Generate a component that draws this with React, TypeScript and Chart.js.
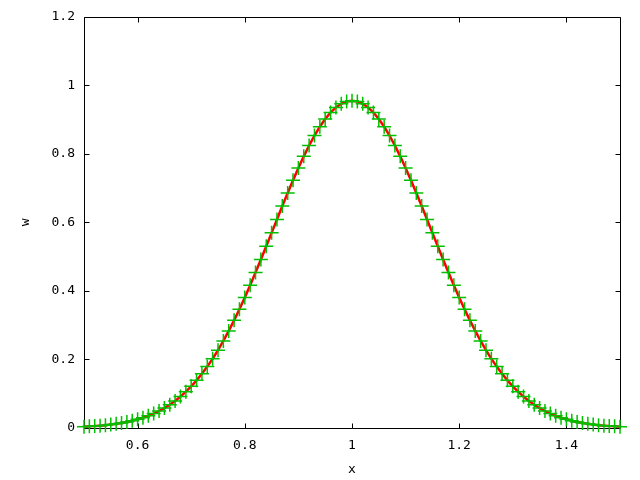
import { useEffect, useRef } from "react";
import { Chart, registerables } from "chart.js";

Chart.register(...registerables);

const xValues = [
  0.5, 0.51, 0.52, 0.53, 0.54, 0.55, 0.56, 0.57, 0.58, 0.59,
  0.6, 0.61, 0.62, 0.63, 0.64, 0.65, 0.66, 0.67, 0.68, 0.69,
  0.7, 0.71, 0.72, 0.73, 0.74, 0.75, 0.76, 0.77, 0.78, 0.79,
  0.8, 0.81, 0.82, 0.83, 0.84, 0.85, 0.86, 0.87, 0.88, 0.89,
  0.9, 0.91, 0.92, 0.93, 0.94, 0.95, 0.96, 0.97, 0.98, 0.99,
  1.0,
  1.01, 1.02, 1.03, 1.04, 1.05, 1.06, 1.07, 1.08, 1.09, 1.1,
  1.11, 1.12, 1.13, 1.14, 1.15, 1.16, 1.17, 1.18, 1.19, 1.2,
  1.21, 1.22, 1.23, 1.24, 1.25, 1.26, 1.27, 1.28, 1.29, 1.3,
  1.31, 1.32, 1.33, 1.34, 1.35, 1.36, 1.37, 1.38, 1.39, 1.4,
  1.41, 1.42, 1.43, 1.44, 1.45, 1.46, 1.47, 1.48, 1.49, 1.5,
];

const wValues = [
  0.004, 0.005, 0.0055, 0.0068, 0.0083, 0.0101, 0.0122, 0.0147, 0.0177, 0.0212,
  0.0253, 0.0301, 0.0356, 0.0421, 0.0496, 0.0582, 0.068, 0.0791, 0.0917, 0.1059,
  0.1217, 0.139, 0.1581, 0.1792, 0.2022, 0.2272, 0.254, 0.2832, 0.3141, 0.3467,
  0.3809, 0.4166, 0.4536, 0.4916, 0.5303, 0.5695, 0.6087, 0.6477, 0.686, 0.7232,
  0.759, 0.7928, 0.8244, 0.8533, 0.8792, 0.9017, 0.9205, 0.9354, 0.9463, 0.9528,
  0.955,
  0.9528, 0.9463, 0.9354, 0.9205, 0.9017, 0.8792, 0.8533, 0.8244, 0.7928, 0.759,
  0.7232, 0.686, 0.6477, 0.6087, 0.5695, 0.5303, 0.4916, 0.4536, 0.4166, 0.3809,
  0.3467, 0.3141, 0.2832, 0.254, 0.2272, 0.2022, 0.1792, 0.1581, 0.139, 0.1217,
  0.1059, 0.0917, 0.0791, 0.068, 0.0582, 0.0496, 0.0421, 0.0356, 0.0301, 0.0253,
  0.0212, 0.0177, 0.0147, 0.0122, 0.0101, 0.0083, 0.0068, 0.0055, 0.005, 0.004,
];

const xTicks = [0.6, 0.8, 1, 1.2, 1.4];
const yTicks = [0, 0.2, 0.4, 0.6, 0.8, 1, 1.2];

const FONT = { family: "'DejaVu Sans Mono', monospace", size: 13 };

const framePlugin = {
  id: "gnuFrame",
  beforeDatasetsDraw(chart: any) {
    const { ctx, chartArea } = chart;
    const { left, right, top, bottom } = chartArea;
    const xs = chart.scales.x;
    const ys = chart.scales.y;
    const L = Math.round(left) + 0.5;
    const R = Math.round(right) + 0.5;
    const T = Math.round(top) + 0.5;
    const B = Math.round(bottom) + 0.5;
    const tl = 5;
    ctx.save();
    ctx.strokeStyle = "#000";
    ctx.lineWidth = 1;
    ctx.beginPath();
    ctx.rect(L, T, R - L, B - T);
    xTicks.forEach((v) => {
      const p = Math.round(xs.getPixelForValue(v)) + 0.5;
      ctx.moveTo(p, B);
      ctx.lineTo(p, B - tl);
      ctx.moveTo(p, T);
      ctx.lineTo(p, T + tl);
    });
    yTicks.forEach((v) => {
      const p = Math.round(ys.getPixelForValue(v)) + 0.5;
      ctx.moveTo(L, p);
      ctx.lineTo(L + tl, p);
      ctx.moveTo(R, p);
      ctx.lineTo(R - tl, p);
    });
    ctx.stroke();
    ctx.restore();
  },
};

export default function App() {
  const ref = useRef<HTMLCanvasElement | null>(null);

  useEffect(() => {
    document.body.style.margin = "0";
    const canvas = ref.current;
    if (!canvas) return;
    const points = xValues.map((x, i) => ({ x, y: wValues[i] }));
    const chart = new Chart(canvas, {
      type: "scatter",
      data: {
        datasets: [
          {
            label: "points",
            data: points,
            showLine: false,
            pointStyle: "cross",
            pointRadius: 7,
            pointBorderWidth: 1.5,
            borderColor: "#00c000",
            backgroundColor: "#00c000",
            clip: false as any,
          },
          {
            label: "curve",
            data: points,
            showLine: true,
            pointRadius: 0,
            borderColor: "#ff0000",
            borderWidth: 2.5,
            backgroundColor: "#ff0000",
          },
        ],
      },
      options: {
        responsive: false,
        animation: false,
        events: [],
        layout: { padding: { left: 0, top: 15, right: 20, bottom: 0 } },
        plugins: {
          legend: { display: false },
          tooltip: { enabled: false },
        },
        scales: {
          x: {
            type: "linear",
            min: 0.5,
            max: 1.5,
            grid: { display: false, drawTicks: false },
            border: { display: false },
            afterBuildTicks: (scale: any) => {
              scale.ticks = xTicks.map((v) => ({ value: v }));
            },
            afterFit: (scale: any) => {
              scale.height = 52;
            },
            ticks: {
              color: "#000",
              font: FONT,
              padding: 10,
              maxRotation: 0,
              autoSkip: false,
              callback: (v: any) => String(v),
            },
            title: {
              display: true,
              text: "x",
              color: "#000",
              font: FONT,
              padding: { top: 0, bottom: 3 },
            },
          },
          y: {
            type: "linear",
            min: 0,
            max: 1.2,
            grid: { display: false, drawTicks: false },
            border: { display: false },
            afterBuildTicks: (scale: any) => {
              scale.ticks = yTicks.map((v) => ({ value: v }));
            },
            afterFit: (scale: any) => {
              scale.width = 84;
            },
            ticks: {
              color: "#000",
              font: FONT,
              padding: 9,
              autoSkip: false,
              callback: (v: any) => String(v),
            },
            title: {
              display: true,
              text: "w",
              color: "#000",
              font: FONT,
              padding: { top: 18, bottom: 0 },
            },
          },
        },
      },
      plugins: [framePlugin],
    });
    return () => chart.destroy();
  }, []);

  return (
    <div style={{ width: 640, height: 480, background: "#fff" }}>
      <canvas ref={ref} width={640} height={480} style={{ display: "block" }} />
    </div>
  );
}
